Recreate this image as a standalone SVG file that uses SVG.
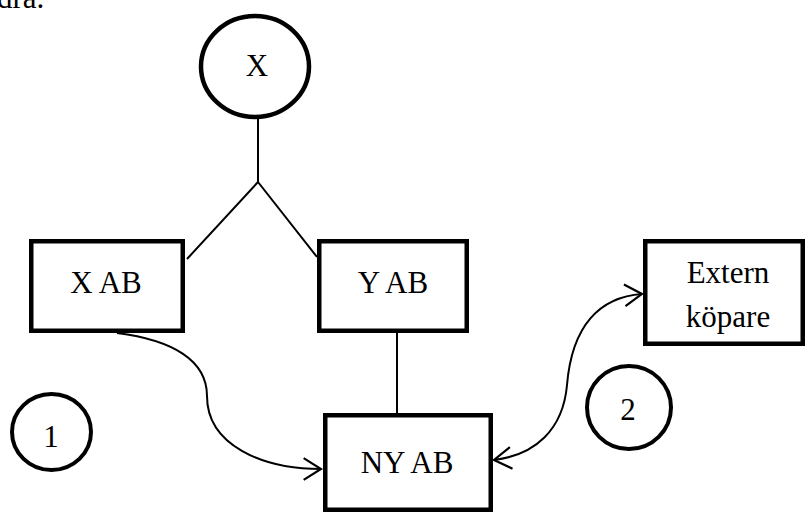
<svg xmlns="http://www.w3.org/2000/svg" width="805" height="512" viewBox="0 0 805 512">
  <style>
    .box { fill: #fff; stroke: #000; stroke-width: 4.5; }
    .ring { fill: #fff; stroke: #000; stroke-width: 4; }
    .lbl { font-family: "Liberation Serif", "Times New Roman", serif; font-size: 31px; fill: #000; text-anchor: middle; }
    .wire { fill: none; stroke: #000; stroke-width: 2; }
  </style>
  <defs>
    <marker id="open-arrow" markerUnits="userSpaceOnUse" markerWidth="24" markerHeight="26" viewBox="-18 -12 20 24" refX="0" refY="0" orient="auto-start-reverse">
      <path d="M-16,-10 L0,0 L-16,10" fill="none" stroke="#000" stroke-width="2"/>
    </marker>
  </defs>

  <rect width="805" height="512" fill="#fff"/>

  <!-- trailing text from the preceding paragraph -->
  <text class="lbl" x="-3" y="8" style="text-anchor:start">dra.</text>

  <g id="connectors">
    <!-- owner X splits into the two companies -->
    <path class="wire" d="M258,119 L258,182 M258,182 L187,259 M258,182 L317,257"/>
    <!-- Y AB to NY AB -->
    <path class="wire" d="M397,333 L397,413"/>
    <!-- transfer from X AB to NY AB -->
    <path class="wire" d="M117,333 C172,340 207,360 207,396 C207,445 262,469 321,469" marker-end="url(#open-arrow)"/>
    <!-- exchange between NY AB and the external buyer -->
    <path class="wire" d="M494,460 C535,455 563,430 567,385 C572,325 600,297 642,294" marker-start="url(#open-arrow)" marker-end="url(#open-arrow)"/>
  </g>

  <g id="node-x">
    <ellipse class="ring" cx="255" cy="66.5" rx="54" ry="50.5" style="stroke-width:4.5"/>
    <text class="lbl" x="257" y="76">X</text>
  </g>

  <g id="node-xab">
    <rect class="box" x="31.25" y="241.25" width="151.5" height="89.5"/>
    <text class="lbl" x="106" y="293">X AB</text>
  </g>

  <g id="node-yab">
    <rect class="box" x="319.25" y="241.25" width="147.5" height="89.5"/>
    <text class="lbl" x="393" y="293">Y AB</text>
  </g>

  <g id="node-extern">
    <rect class="box" x="645.25" y="241.25" width="157.5" height="102.5"/>
    <text class="lbl" x="728" y="283">Extern</text>
    <text class="lbl" x="728" y="327">köpare</text>
  </g>

  <g id="node-nyab">
    <rect class="box" x="325.25" y="415.25" width="165.5" height="94.5"/>
    <text class="lbl" x="407" y="473">NY AB</text>
  </g>

  <g id="step-1">
    <ellipse class="ring" cx="51.5" cy="432" rx="39.5" ry="38"/>
    <text class="lbl" x="51" y="447">1</text>
  </g>

  <g id="step-2">
    <ellipse class="ring" cx="629" cy="407.5" rx="42" ry="41.5"/>
    <text class="lbl" x="628" y="420">2</text>
  </g>
</svg>
